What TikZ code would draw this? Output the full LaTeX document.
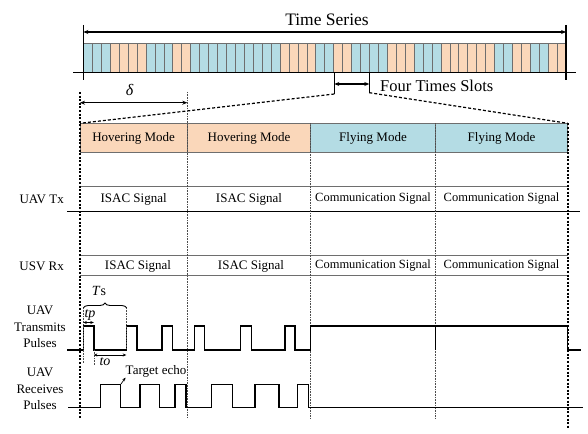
\documentclass[tikz,border=0pt]{standalone}
\usepackage{fontspec}
\setmainfont{Liberation Serif}
\usetikzlibrary{arrows.meta,decorations.pathreplacing}
\definecolor{slotO}{RGB}{250,215,186}
\definecolor{slotB}{RGB}{180,220,228}
\definecolor{frameG}{RGB}{110,110,110}
\begin{document}
\begin{tikzpicture}[x=1pt,y=-1pt,
  slot/.style={draw=frameG,line width=0.5pt,minimum width=8.939pt,minimum height=29.4pt,inner sep=0pt,outer sep=0pt},
  modebox/.style={draw=frameG,line width=0.8pt,minimum height=29.4pt,inner sep=0pt,outer sep=0pt,font=\fontsize{13}{15}\selectfont},
  lbl/.style={font=\fontsize{13}{16.5}\selectfont,inner sep=0pt,align=center},
  sig/.style={font=\fontsize{13}{15}\selectfont,inner sep=0pt},
  csig/.style={font=\fontsize{12.5}{15}\selectfont,inner sep=0pt},
  big/.style={font=\fontsize{16.5}{19}\selectfont,inner sep=0pt},
  pulse/.style={line width=1.4pt,line join=miter},
  thickdot/.style={line width=1.6pt,dash pattern=on 2pt off 1.6pt},
  thindot/.style={line width=0.6pt,dash pattern=on 0.8pt off 0.8pt,black!70},
  zoomdash/.style={line width=1.2pt,dash pattern=on 3pt off 2pt},
  dim/.style={line width=1.2pt,{Stealth[length=5pt,width=4pt]}-{Stealth[length=5pt,width=4pt]}},
  smalldim/.style={line width=0.7pt,{Stealth[length=3.5pt,width=3pt]}-{Stealth[length=3.5pt,width=3pt]}}
]
\useasboundingbox (0,0) rectangle (588,433);

% ---- time series bar ----
\foreach \c [count=\i from 0] in {B,B,B,O,O,O,O,B,B,B,O,O,B,B,B,B,B,B,B,B,B,B,O,O,O,O,B,B,O,O,B,B,B,B,O,O,O,B,B,B,O,O,O,O,O,O,B,B,O,O,B,B,O,O}
  \node[slot,fill=slot\c] (s\i) at ({83.3+8.939*(\i+0.5)},58) {};
\draw[line width=1.4pt] (73,72.7) -- (576,72.7);
\coordinate (tlT) at (83.3,25); \coordinate (tlB) at (83.3,80);
\coordinate (trT) at (566,25); \coordinate (trB) at (566,80);
\draw[line width=1.4pt] (tlT) -- (tlB);
\draw[line width=1.4pt] (trT) -- (trB);
\coordinate (aL) at (83.3,32); \coordinate (aR) at (566,32);
\draw[dim] (aL) -- (aR);
\node[font=\fontsize{17.5}{20}\selectfont,inner sep=0pt] (ts) at (327,20) {Time Series};

% ---- four time slots marker ----
\coordinate (fA) at (334.3,72.7); \coordinate (fB) at (334.3,94);
\coordinate (fC) at (369.3,72.7); \coordinate (fD) at (369.3,92.7);
\draw[line width=1.2pt] (fA) -- (fB);
\draw[line width=1.2pt] (fC) -- (fD);
\coordinate (fL) at (334.3,84); \coordinate (fR) at (369.3,84);
\draw[dim] (fL) -- (fR);
\node[big,anchor=west] (fts) at (380,86) {Four Times Slots};

% ---- mode row ----
\node[modebox,fill=slotO,minimum width=107.3pt] (m1) at (133.65,138) {Hovering Mode};
\node[modebox,fill=slotO,minimum width=123.4pt] (m2) at (249,138) {Hovering Mode};
\node[modebox,fill=slotB,minimum width=124.6pt] (m3) at (373,138) {Flying Mode};
\node[modebox,fill=slotB,minimum width=132.4pt] (m4) at (501.5,138) {Flying Mode};

% zoom dashed lines
\draw[zoomdash] (fB) -- (m1.north west);
\draw[zoomdash] (fD) -- (m4.north east);

% ---- delta ----
\coordinate (dL) at (80,102.7); \coordinate (dR) at (187.3,102.7);
\draw[dim] (dL) -- (dR);
\node[font=\fontsize{16}{19}\selectfont\itshape,inner sep=0pt] (delta) at (129.5,90) {δ};

% ---- signal rows ----
\draw[frameG,line width=0.6pt] (80,186.7) -- (567.7,186.7);
\draw[line width=1.4pt] (67,211.7) -- (580,211.7);
\draw[frameG,line width=0.6pt] (80,255) -- (567.7,255);
\draw[frameG,line width=0.6pt] (80,275) -- (567.7,275);

\node[lbl] (utx) at (41.7,199) {UAV Tx};
\node[lbl] (urx) at (41.7,266) {USV Rx};
\node[sig] (t1) at (133.65,199) {ISAC Signal};
\node[sig] (t2) at (249,199) {ISAC Signal};
\node[csig] (t3) at (373,199) {Communication Signal};
\node[csig] (t4) at (501.5,199) {Communication Signal};
\node[sig] (r1) at (138,266) {ISAC Signal};
\node[sig] (r2) at (251,266) {ISAC Signal};
\node[csig] (r3) at (373,266) {Communication Signal};
\node[csig] (r4) at (501.5,266) {Communication Signal};

% ---- vertical separators ----
\draw[thickdot] (80,92) -- (80,418);
\draw[thindot] (187.3,92) -- (187.3,417);
\draw[thindot] (310.7,123.3) -- (310.7,418);
\draw[thindot] (435.3,123.3) -- (435.3,418);
\draw[thickdot] (567.7,123.3) -- (567.7,428);

% ---- pulses ----
\node[lbl] (ltx) at (40,327) {UAV\\Transmits\\Pulses};
\node[lbl] (lrx) at (40,389) {UAV\\Receives\\Pulses};

\draw[pulse] (67,350) -- (83.3,350) -- (83.3,326) -- (93.8,326) -- (93.8,350)
  -- (126.3,350) -- (126.3,326) -- (137,326) -- (137,350)
  -- (162,350) -- (162,326) -- (172.5,326) -- (172.5,350)
  -- (194.3,350) -- (194.3,326) -- (204.3,326) -- (204.3,350)
  -- (240.7,350) -- (240.7,326) -- (251.3,326) -- (251.3,350)
  -- (285,350) -- (285,326) -- (295,326) -- (295,350)
  -- (310.7,350) -- (310.7,326) -- (567.7,326) -- (567.7,350) -- (581,350);
\draw[line width=1.1pt] (435.3,326) -- (435.3,350);

\draw[pulse] (68,407.3) -- (100.7,407.3) -- (100.7,384.3) -- (120.7,384.3) -- (120.7,407.3)
  -- (140,407.3) -- (140,384.3) -- (159.3,384.3) -- (159.3,407.3)
  -- (175,407.3) -- (175,384.3) -- (186,384.3) -- (186,407.3)
  -- (211.7,407.3) -- (211.7,384.3) -- (232.3,384.3) -- (232.3,407.3)
  -- (255,407.3) -- (255,384.3) -- (279,384.3) -- (279,407.3)
  -- (297.5,407.3) -- (297.5,384.3) -- (308.5,384.3) -- (308.5,407.3)
  -- (583,407.3);

% ---- annotations ----
\draw[decorate,decoration={brace,amplitude=5pt},line width=0.9pt] (83.3,308) -- (126.7,308);
\node[font=\fontsize{14}{16}\selectfont,inner sep=0pt] (tsl) at (99,291) {\textit{T}s};
\draw[thindot] (83.3,308) -- (83.3,363);
\draw[thindot] (126.7,308) -- (126.7,349);
\draw[thindot] (93.8,350) -- (93.8,365);
\coordinate (oL) at (93.8,355); \coordinate (oR) at (126.3,355);
\draw[smalldim] (oL) -- (oR);
\node[font=\fontsize{14}{16}\selectfont\itshape,inner sep=0pt] (tol) at (105,362) {to};
\coordinate (pL) at (83.3,322.5); \coordinate (pR) at (93.8,322.5);
\draw[smalldim] (pL) -- (pR);
\node[font=\fontsize{14}{16}\selectfont\itshape,inner sep=0pt] (tpl) at (90,315) {tp};
\node[sig] (echo) at (156,371.5) {Target echo};
\coordinate (eS) at (121,384);
\draw[line width=0.7pt,-{Stealth[length=3.5pt,width=3pt]}] (eS) -- (echo.south west);
\end{tikzpicture}
\end{document}
